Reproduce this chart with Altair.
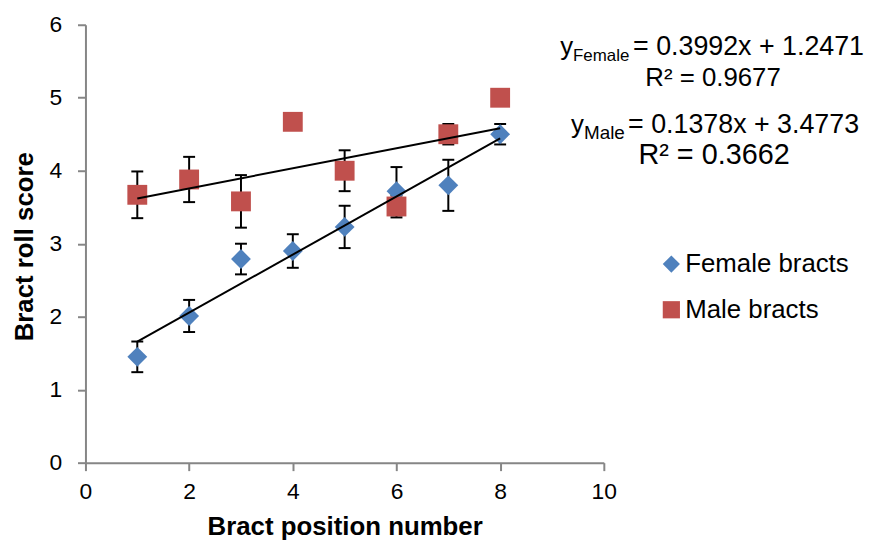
import altair as alt
import pandas as pd

# ---- data ----
positions = [1, 2, 3, 4, 5, 6, 7, 8]
female_score = [1.45, 2.01, 2.79, 2.90, 3.23, 3.72, 3.80, 4.50]
female_err = [0.21, 0.22, 0.21, 0.23, 0.29, 0.33, 0.35, 0.14]
male_score = [3.67, 3.88, 3.58, 4.67, 4.00, 3.51, 4.50, 5.00]
male_err = [0.32, 0.31, 0.36, 0.0, 0.28, 0.15, 0.14, 0.0]
series_names = ["Female bracts", "Male bracts"]
series_colors = ["#4F81BD", "#C0504D"]
series_shapes = ["diamond", "square"]
x_ticks = [0, 2, 4, 6, 8, 10]
y_ticks = [0, 1, 2, 3, 4, 5, 6]
eq_sub = ["Female", "Male"]
eq_main = ["= 0.3992x + 1.2471", "= 0.1378x + 3.4773"]
eq_r2 = ["R² = 0.9677", "R² = 0.3662"]

FONT = "Liberation Sans"

rows = []
for name, vals, errs in [(series_names[0], female_score, female_err),
                         (series_names[1], male_score, male_err)]:
    for p, v, e in zip(positions, vals, errs):
        rows.append({"x": p, "y": v, "err": e, "lo": v - e, "hi": v + e, "series": name})
df = pd.DataFrame(rows)
df_err = df[df["err"] > 0]

xs = alt.Scale(domain=[0, 10], nice=False, zero=False)
ys = alt.Scale(domain=[0, 6], nice=False, zero=False)

x_axis = alt.Axis(values=x_ticks, format="d", grid=False, domainColor="#868686", domainWidth=2,
                  tickColor="#868686", tickWidth=2, tickSize=8, labelFont=FONT,
                  labelFontSize=23, labelColor="#000000", labelPadding=10, labelFlush=False,
                  labelOverlap=False,
                  title="Bract position number", titleFont=FONT, titleFontSize=26,
                  titleFontWeight="bold", titleColor="#000000",
                  titleBaseline="alphabetic", titleY=72)
y_axis = alt.Axis(values=y_ticks, format="d", grid=False, domainColor="#868686", domainWidth=2,
                  tickColor="#868686", tickWidth=2, tickSize=8, labelFont=FONT,
                  labelFontSize=23, labelColor="#000000", labelPadding=16, labelFlush=False,
                  labelOverlap=False,
                  title="Bract roll score", titleFont=FONT, titleFontSize=26,
                  titleFontWeight="bold", titleColor="#000000",
                  titleBaseline="alphabetic", titleAlign="center", titleAngle=270,
                  titleX=-53, titleY=223)

base = alt.Chart(df)

err_rules = alt.Chart(df_err).mark_rule(color="black", strokeWidth=2).encode(
    x=alt.X("x:Q", scale=xs, axis=x_axis),
    y=alt.Y("lo:Q", scale=ys, axis=y_axis),
    y2="hi:Q",
)
caps_lo = alt.Chart(df_err).mark_tick(color="black", orient="horizontal", size=12,
                                      thickness=2, opacity=1).encode(
    x=alt.X("x:Q", scale=xs), y=alt.Y("lo:Q", scale=ys))
caps_hi = alt.Chart(df_err).mark_tick(color="black", orient="horizontal", size=12,
                                      thickness=2, opacity=1).encode(
    x=alt.X("x:Q", scale=xs), y=alt.Y("hi:Q", scale=ys))

leg = alt.Legend(title=None, orient="none", legendX=577, legendY=228,
                 labelFont=FONT, labelFontSize=26, labelColor="#000000", labelLimit=400,
                 symbolSize=300, symbolStrokeWidth=0, labelOffset=1,
                 rowPadding=20, padding=0, symbolOpacity=1)

points = base.mark_point(filled=True, opacity=1, size=400, strokeWidth=0).encode(
    x=alt.X("x:Q", scale=xs),
    y=alt.Y("y:Q", scale=ys),
    color=alt.Color("series:N", scale=alt.Scale(domain=series_names, range=series_colors),
                    legend=leg),
    shape=alt.Shape("series:N", scale=alt.Scale(domain=series_names, range=series_shapes),
                    legend=leg),
)

trend = base.transform_regression("x", "y", groupby=["series"], extent=[1, 8]).mark_line(
    color="black", strokeWidth=2).encode(
    x=alt.X("x:Q", scale=xs), y=alt.Y("y:Q", scale=ys), detail="series:N")

one = pd.DataFrame({"a": [0]})


def txt(s, px, py, size=26, align="left"):
    return alt.Chart(one).mark_text(text=s, font=FONT, fontSize=size, align=align,
                                    baseline="alphabetic", color="#000000").encode(
        x=alt.value(px), y=alt.value(py))


texts = [
    txt("y", 491, 30, align="right"),
    txt(eq_sub[0], 491, 37, size=17),
    txt(eq_main[0], 784, 30, size=27, align="right"),
    txt(eq_r2[0], 632, 62, align="center"),
    txt("y", 502, 109, align="right"),
    txt(eq_sub[1], 502, 115, size=19),
    txt(eq_main[1], 779, 109, size=27, align="right"),
    txt(eq_r2[1], 633, 140, size=29, align="center"),
]

chart = alt.layer(err_rules, caps_lo, caps_hi, points, trend, *texts).properties(
    width=522, height=441,
    autosize=alt.AutoSizeParams(type="none"),
    padding={"left": 78, "top": 15, "right": 262, "bottom": 77},
).configure_view(stroke=None)

chart.save("out.html", embed_options={"renderer": "svg", "actions": False})
